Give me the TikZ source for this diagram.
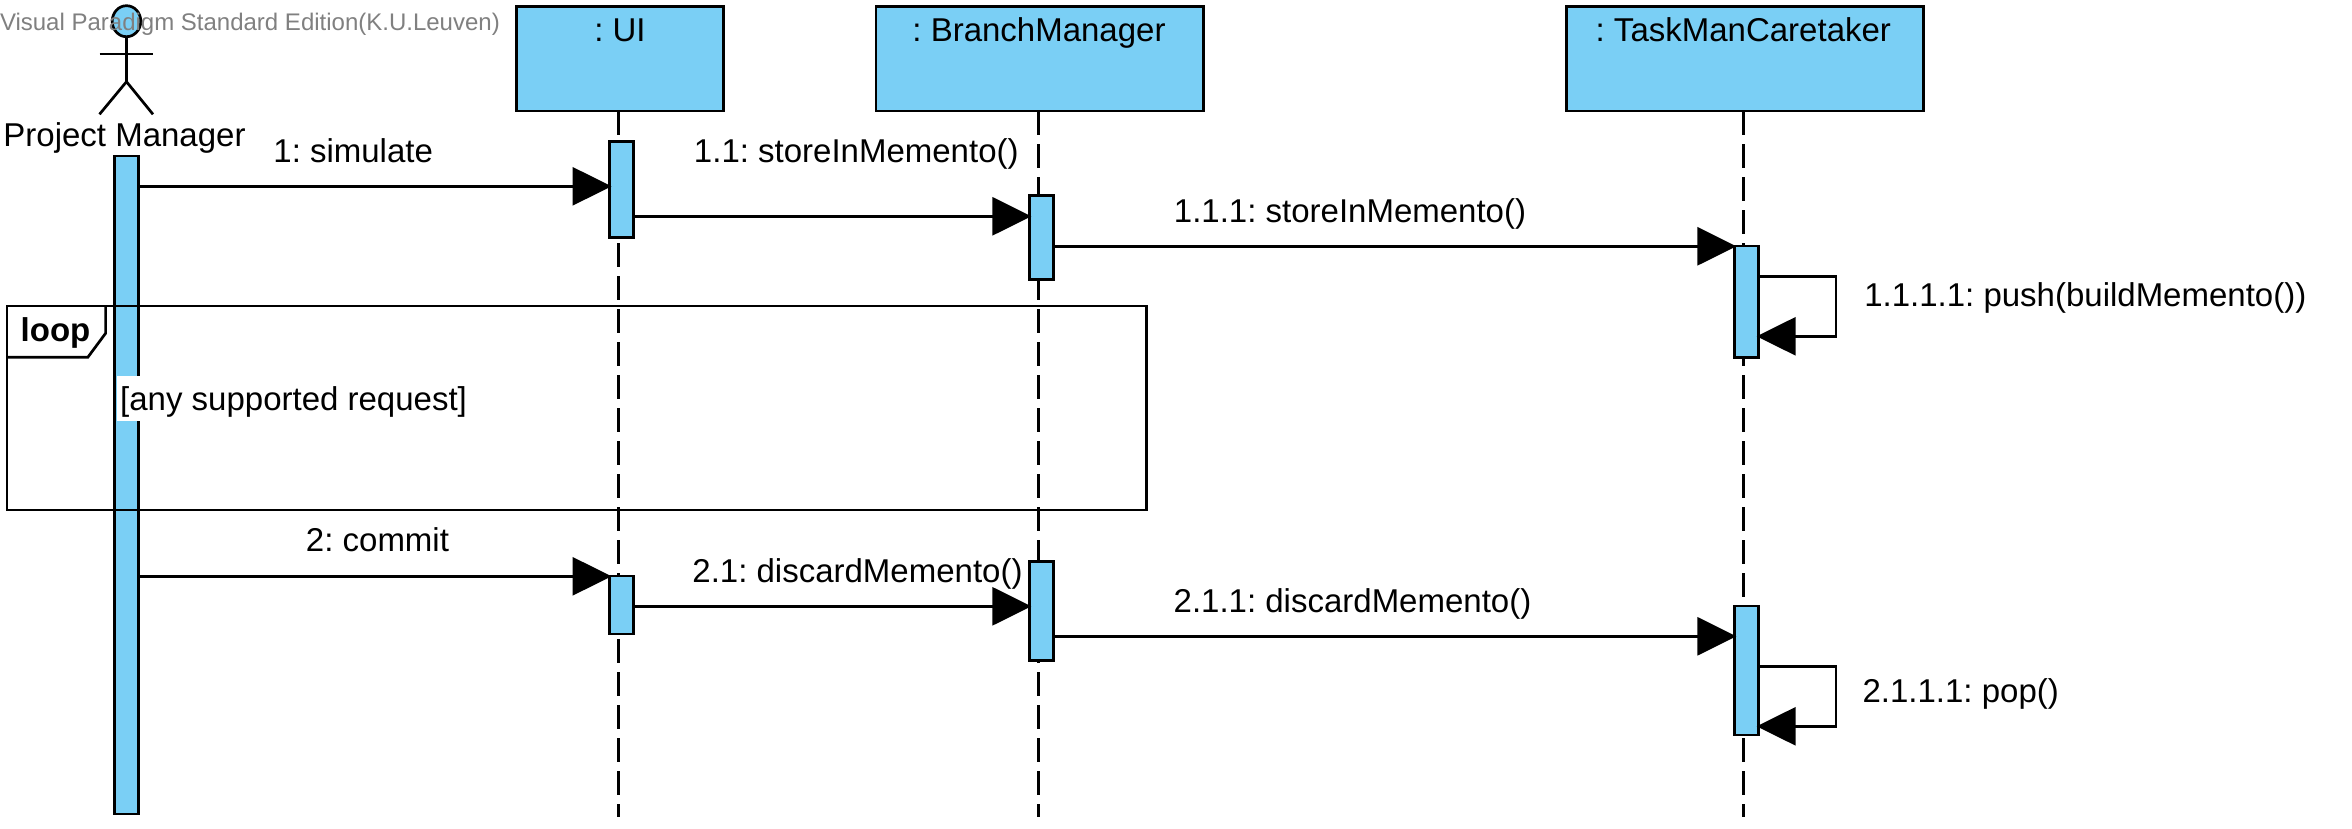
\documentclass[tikz,border=0pt]{standalone}
\usepackage{fontspec}
\setmainfont{Liberation Sans}
\usetikzlibrary{arrows.meta,calc,shapes.geometric}
\definecolor{umlblue}{RGB}{122,207,245}
\definecolor{wmgray}{RGB}{128,128,128}
\tikzset{
  lw/.style={line width=2.7pt,draw=black},
  objbox/.style={lw,fill=umlblue,rectangle,inner sep=0pt,outer sep=0pt,minimum height=104.7pt},
  actbox/.style={lw,fill=umlblue,rectangle,inner sep=0pt,outer sep=0pt,minimum width=24.2pt},
  lifeline/.style={lw,dash pattern=on 24pt off 9pt},
  msg/.style={lw,-{Triangle[length=39pt,width=38pt,sep=-2pt]}},
  lbl/.style={font=\fontsize{33}{36}\selectfont\frenchspacing,anchor=base,inner sep=0pt,outer sep=0pt},
  actorline/.style={lw}
}
\begin{document}
\begin{tikzpicture}[x=1pt,y=-1pt]
\useasboundingbox (0,0) rectangle (2352,828);
\fill[white] (0,0) rectangle (2352,828);
% objects
\node[objbox,minimum width=207pt] (ui) at (619.7,58.7) {};
\node[objbox,minimum width=327.7pt] (bm) at (1039.8,58.7) {};
\node[objbox,minimum width=357pt] (tc) at (1744.8,58.7) {};
\coordinate (uistem) at (618.3,111);
\coordinate (bmstem) at (1038.3,111);
\coordinate (tcstem) at (1743.3,111);
\coordinate (uiend) at (618.3,816.5);
\coordinate (bmend) at (1038.3,816.5);
\coordinate (tcend) at (1743.3,816.5);
\draw[lifeline] (uistem) -- (uiend);
\draw[lifeline] (bmstem) -- (bmend);
\draw[lifeline] (tcstem) -- (tcend);
\node[lbl] (uit) at (620,41.7) {: UI};
\node[lbl] (bmt) at (1039,41.7) {: BranchManager};
\node[lbl] (tct) at (1743.3,41.7) {: TaskManCaretaker};
% activations
\node[actbox,minimum height=658pt] (pma) at (126.5,485) {};
\node[actbox,minimum height=96.4pt] (ua) at (621.7,189.5) {};
\node[actbox,minimum height=84pt] (ba) at (1041.5,237.3) {};
\node[actbox,minimum height=111.7pt] (ta) at (1746.5,301.8) {};
\node[actbox,minimum height=58pt] (ub) at (621.7,605) {};
\node[actbox,minimum height=99.4pt] (bb) at (1041.5,611) {};
\node[actbox,minimum height=129pt] (tb) at (1746.5,670.5) {};
% actor
\node[lw,fill=umlblue,ellipse,inner sep=0pt,outer sep=0pt,minimum width=28.6pt,minimum height=31pt] (head) at (126.5,21.2) {};
\coordinate (armL) at (99.5,54);
\coordinate (armR) at (153,54);
\coordinate (hip) at (126.5,81.7);
\coordinate (footL) at (99.5,114.3);
\coordinate (footR) at (153,114.3);
\draw[actorline] (head.south) -- (hip);
\draw[actorline] (armL) -- (armR);
\draw[actorline] (footL) -- (hip) -- (footR);
\node[lbl] (pmt) at (124.5,146.7) {Project Manager};
% frame
\coordinate (fa) at (7,306);
\coordinate (fb) at (1146.7,510);
\draw[lw] (fa) rectangle (fb);
\coordinate (pa) at (105.6,306);
\coordinate (pb) at (105.6,333.3);
\coordinate (pc) at (87.8,357.3);
\coordinate (pd) at (7,357.3);
\draw[lw] (pa) -- (pb) -- (pc) -- (pd);
\node[lbl] (loopt) at (55.5,341.7) {\bfseries loop};
\node[lbl,anchor=base west,fill=white,inner xsep=3.4pt,inner ysep=0pt,text height=35pt,text depth=10pt] (guard) at (116.8,410.5) {[any supported request]};
% messages
\coordinate (m1) at (0,186.3);
\coordinate (m11) at (0,216.3);
\coordinate (m111) at (0,246.3);
\coordinate (m2) at (0,576.3);
\coordinate (m21) at (0,606.3);
\coordinate (m211) at (0,636.3);
\draw[msg] (pma.east |- m1) -- (ua.west |- m1);
\draw[msg] (ua.east |- m11) -- (ba.west |- m11);
\draw[msg] (ba.east |- m111) -- (ta.west |- m111);
\draw[msg] (pma.east |- m2) -- (ub.west |- m2);
\draw[msg] (ub.east |- m21) -- (bb.west |- m21);
\draw[msg] (bb.east |- m211) -- (tb.west |- m211);
% self messages
\coordinate (s1a) at (1836,276.3);
\coordinate (s1b) at (1836,336.3);
\coordinate (s2a) at (1836,666.3);
\coordinate (s2b) at (1836,726.3);
\draw[msg] (ta.east |- s1a) -- (s1a) -- (s1b) -- (ta.east |- s1b);
\draw[msg] (tb.east |- s2a) -- (s2a) -- (s2b) -- (tb.east |- s2b);
% labels
\node[lbl] (l1) at (353.2,162.5) {1: simulate};
\node[lbl] (l11) at (856.3,162.5) {1.1: storeInMemento()};
\node[lbl] (l111) at (1350,222.5) {1.1.1: storeInMemento()};
\node[lbl] (l1111) at (2085.3,306) {1.1.1.1: push(buildMemento())};
\node[lbl] (l2) at (377.5,551.5) {2: commit};
\node[lbl] (l21) at (857.5,582.5) {2.1: discardMemento()};
\node[lbl] (l211) at (1352.5,612.5) {2.1.1: discardMemento()};
\node[lbl] (l2111) at (1960.7,702.5) {2.1.1.1: pop()};
% watermark
\node[lbl,anchor=base west,text=wmgray,font=\fontsize{24}{26}\selectfont\frenchspacing] (wm) at (0,30) {Visual Paradigm Standard Edition(K.U.Leuven)};
\end{tikzpicture}
\end{document}
